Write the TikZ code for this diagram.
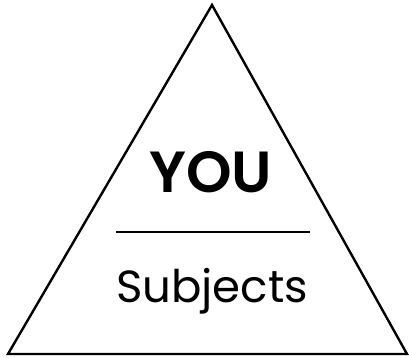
\documentclass[tikz,border=0pt]{standalone}
\usepackage{fontspec}
\setmainfont{Poppins}[BoldFont={Poppins SemiBold}]
\begin{document}
\begin{tikzpicture}[
  x=1pt, y=-1pt,
  line width=2.4pt,
  title/.style={font=\fontsize{58}{58}\selectfont\bfseries, inner sep=0pt},
  label/.style={font=\fontsize{45}{45}\selectfont, inner sep=0pt},
]
  \useasboundingbox (0,0) rectangle (409,358);

  % triangle
  \coordinate (top)   at (212,5);
  \coordinate (left)  at (8,354);
  \coordinate (right) at (407,354);
  \draw[line join=miter] (top) -- (right) -- (left) -- cycle;

  % texts
  \node[title, anchor=base] (you) at (211,193) {YOU};
  \node[label, anchor=base] (subj) at (212,302) {Subjects};

  % divider
  \coordinate (divl) at (116,232);
  \coordinate (divr) at (310,232);
  \draw[line width=1.6pt] (divl) -- (divr);
\end{tikzpicture}
\end{document}
